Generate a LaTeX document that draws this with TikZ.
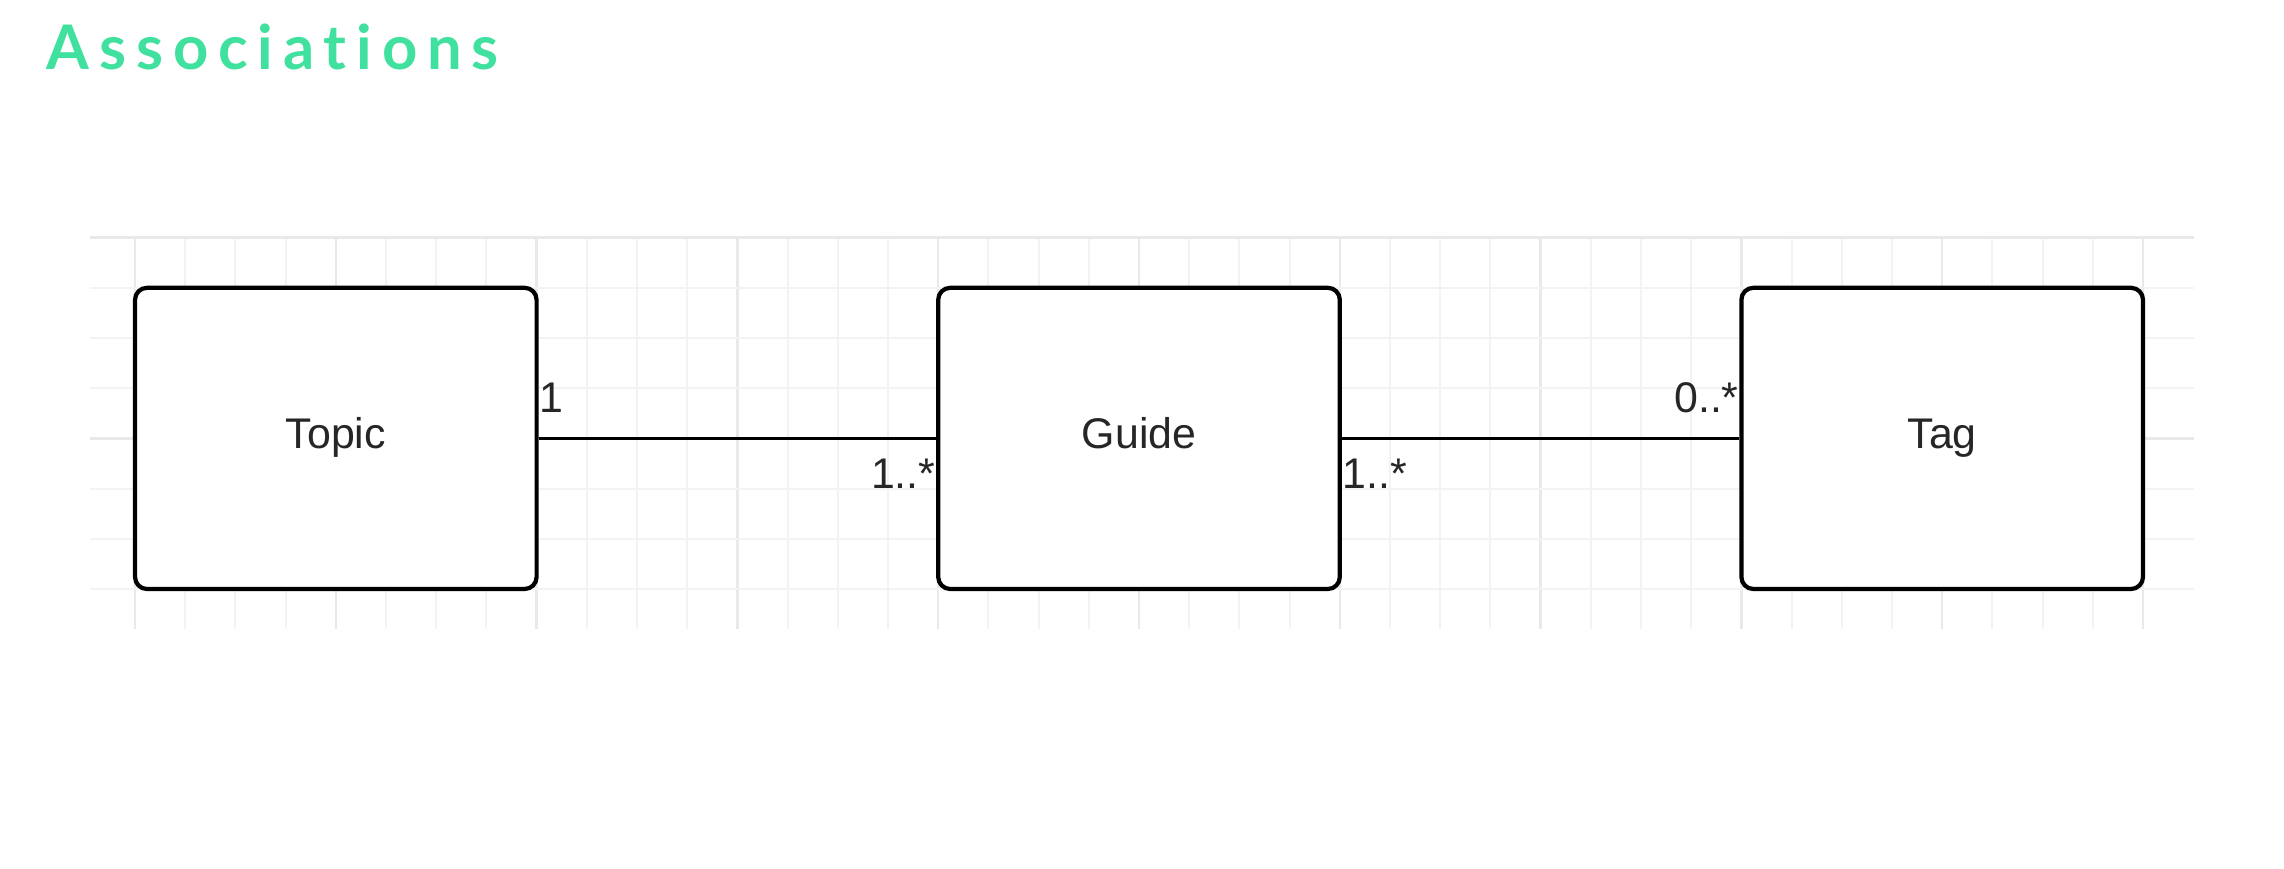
\documentclass[tikz,border=0pt]{standalone}
\usepackage{fontspec}
\setmainfont{Liberation Sans}
\newfontfamily\titlefont[LetterSpace=16.0,Ligatures=NoCommon]{Lato}
\usetikzlibrary{positioning}
\definecolor{titlegreen}{RGB}{64,224,158}
\definecolor{gridminor}{RGB}{243,243,243}
\definecolor{gridmajor}{RGB}{233,233,233}
\tikzstyle{classbox}=[draw,line width=1.2pt,rounded corners=0.12cm,fill=white,minimum width=4.016cm,minimum height=3.012cm,text height=0.33cm,text depth=0.13cm,font=\fontsize{12.2}{14}\selectfont,text=black!85]
\tikzstyle{assoc}=[line width=1pt]
\tikzstyle{multlabel}=[inner sep=0pt,font=\fontsize{12.2}{14}\selectfont,text=black!85]
\tikzstyle{titlelabel}=[inner sep=0pt,text=titlegreen,font=\titlefont\bfseries\fontsize{17.5}{21}\selectfont]
\tikzstyle{minorline}=[draw=gridminor,line width=0.6pt]
\tikzstyle{majorline}=[draw=gridmajor,line width=0.7pt]

\begin{document}
\begin{tikzpicture}

\useasboundingbox (0cm,0cm) rectangle (22.84cm,8.68cm);

\node[titlelabel,anchor=base west] (T) at (0.46cm,7.98cm) {Associations};

% background grid
\foreach \k in {0,...,40} {
  \pgfmathsetmacro{\gx}{1.35+0.502*\k}
  \pgfmathtruncatemacro{\gm}{mod(\k,4)}
  \ifnum\gm=0
    \draw[majorline] (\gx cm,2.39cm) -- (\gx cm,6.304cm);
  \else
    \draw[minorline] (\gx cm,2.39cm) -- (\gx cm,6.304cm);
  \fi
}
\foreach \k in {0,...,7} {
  \pgfmathsetmacro{\gy}{2.79+0.502*\k}
  \pgfmathtruncatemacro{\gm}{mod(\k,4)}
  \ifnum\gm=3
    \draw[majorline] (0.90cm,\gy cm) -- (21.94cm,\gy cm);
  \else
    \draw[minorline] (0.90cm,\gy cm) -- (21.94cm,\gy cm);
  \fi
}

\node[classbox] (C1) at (3.358cm,4.296cm) {Topic};
\node[classbox] (C2) at (11.390cm,4.296cm) {Guide};
\node[classbox] (C3) at (19.422cm,4.296cm) {Tag};

\coordinate[shift={(0cm,0.26cm)}] (C1E) at (C1.east);
\coordinate[shift={(0cm,-0.50cm)}] (C2W) at (C2.west);
\coordinate[shift={(0cm,-0.50cm)}] (C2E) at (C2.east);
\coordinate[shift={(0cm,0.26cm)}] (C3W) at (C3.west);

\draw[assoc] (C1.east) -- (C2.west);
\draw[assoc] (C2.east) -- (C3.west);

\node[multlabel,anchor=base west] (M1) at (C1E) {1};
\node[multlabel,anchor=base east] (M2) at (C2W) {1..*};
\node[multlabel,anchor=base west] (M3) at (C2E) {1..*};
\node[multlabel,anchor=base east] (M4) at (C3W) {0..*};

\end{tikzpicture}
\end{document}
